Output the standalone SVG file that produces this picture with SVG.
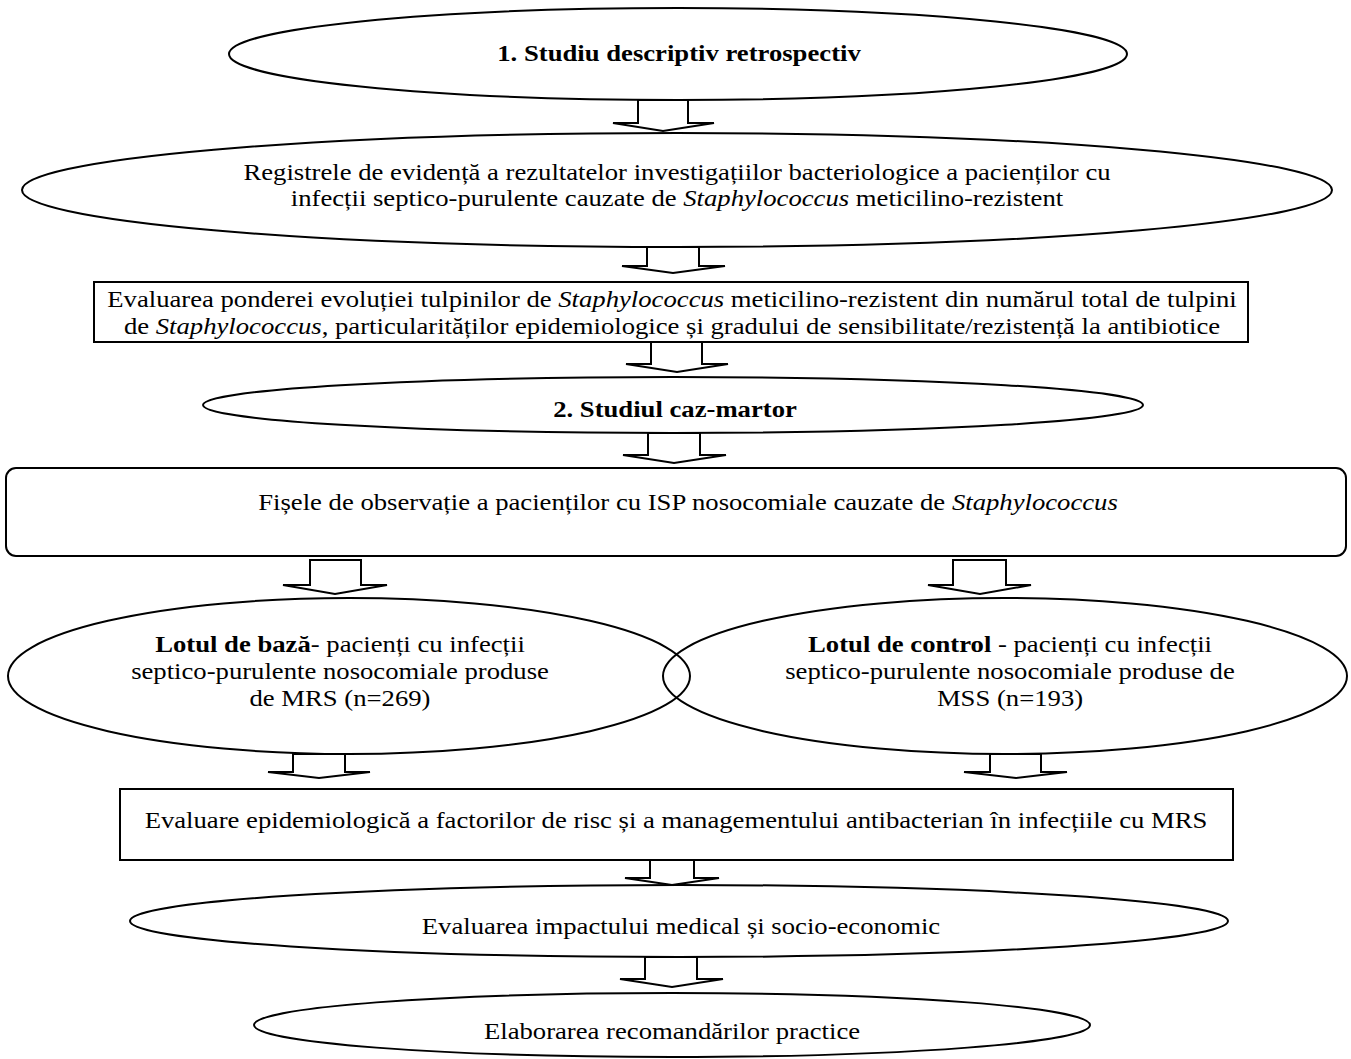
<svg xmlns="http://www.w3.org/2000/svg" width="1351" height="1059" viewBox="0 0 1351 1059">
<style>
.shape{fill:#fff;stroke:#000;stroke-width:2}
.open{fill:none;stroke:#000;stroke-width:2}
.arr{fill:#fff;stroke:#000;stroke-width:2;stroke-linejoin:miter}
text{font-family:"Liberation Serif","Times New Roman",serif;font-size:23.5px;fill:#000;text-anchor:middle}
.b{font-weight:bold}
.i{font-style:italic}
</style>
<rect width="1351" height="1059" fill="#fff"/>
<g id="connectors">
<path class="arr" d="M638,100 V123 H613 L663,131 L714,123 H688 V100 Z"/>
<path class="arr" d="M647,247 V266 H622 L673,273 L725,266 H699 V247 Z"/>
<path class="arr" d="M651,342 V364 H626 L677,372 L728,364 H702 V342 Z"/>
<path class="arr" d="M648,433 V455 H623 L674,463 L726,455 H700 V433 Z"/>
<path class="arr" d="M310,560 V585 H283 L335,594 L387,585 H361 V560 Z"/>
<path class="arr" d="M953,560 V585 H928 L980,594 L1031,585 H1006 V560 Z"/>
<path class="arr" d="M293,754 V772 H268 L319,778 L370,772 H345 V754 Z"/>
<path class="arr" d="M990,754 V772 H964 L1016,778 L1067,772 H1041 V754 Z"/>
<path class="arr" d="M650,860 V878 H625 L672,885 L719,878 H694 V860 Z"/>
<path class="arr" d="M645,957 V979 H620 L672,987 L723,979 H697 V957 Z"/>
</g>
<g id="n1">
<ellipse class="shape" cx="678" cy="54" rx="449" ry="46"/>
<text transform="translate(679 0) scale(1.136 1)" x="0" y="61" class="b">1. Studiu descriptiv retrospectiv</text>
</g>
<g id="n2">
<ellipse class="shape" cx="677" cy="190" rx="655" ry="57"/>
<text transform="translate(677 0) scale(1.136 1)" x="0" y="180">Registrele de evidență a rezultatelor investigațiilor bacteriologice a pacienților cu</text>
<text transform="translate(677 0) scale(1.136 1)" x="0" y="206">infecții septico-purulente cauzate de <tspan class="i">Staphylococcus</tspan> meticilino-rezistent</text>
</g>
<g id="n3">
<rect class="shape" x="94" y="282" width="1154" height="60"/>
<text transform="translate(672 0) scale(1.136 1)" x="0" y="307">Evaluarea ponderei evoluției tulpinilor de <tspan class="i">Staphylococcus</tspan> meticilino-rezistent din numărul total de tulpini</text>
<text transform="translate(672 0) scale(1.136 1)" x="0" y="334">de <tspan class="i">Staphylococcus</tspan>, particularităților epidemiologice și gradului de sensibilitate/rezistență la antibiotice</text>
</g>
<g id="n4">
<ellipse class="shape" cx="673" cy="405" rx="470" ry="28"/>
<text transform="translate(675 0) scale(1.136 1)" x="0" y="417" class="b">2. Studiul caz-martor</text>
</g>
<g id="n5">
<rect class="shape" x="6" y="468" width="1340" height="88" rx="10"/>
<text transform="translate(688 0) scale(1.136 1)" x="0" y="510">Fișele de observație a pacienților cu ISP nosocomiale cauzate de <tspan class="i">Staphylococcus</tspan></text>
</g>
<g id="n6">
<ellipse class="open" cx="349" cy="676" rx="341" ry="78"/>
<text transform="translate(340 0) scale(1.136 1)" x="0" y="652"><tspan class="b">Lotul de bază</tspan>- pacienți cu infecții</text>
<text transform="translate(340 0) scale(1.136 1)" x="0" y="679">septico-purulente nosocomiale produse</text>
<text transform="translate(340 0) scale(1.136 1)" x="0" y="706">de MRS (n=269)</text>
</g>
<g id="n7">
<ellipse class="open" cx="1005" cy="676" rx="342" ry="78"/>
<text transform="translate(1010 0) scale(1.136 1)" x="0" y="652"><tspan class="b">Lotul de control</tspan> - pacienți cu infecții</text>
<text transform="translate(1010 0) scale(1.136 1)" x="0" y="679">septico-purulente nosocomiale produse de</text>
<text transform="translate(1010 0) scale(1.136 1)" x="0" y="706">MSS (n=193)</text>
</g>
<g id="n8">
<rect class="shape" x="120" y="789" width="1113" height="71"/>
<text transform="translate(676 0) scale(1.136 1)" x="0" y="828">Evaluare epidemiologică a factorilor de risc și a managementului antibacterian în infecțiile cu MRS</text>
</g>
<g id="n9">
<ellipse class="shape" cx="679" cy="921" rx="549" ry="36"/>
<text transform="translate(681 0) scale(1.136 1)" x="0" y="934">Evaluarea impactului medical și socio-economic</text>
</g>
<g id="n10">
<ellipse class="shape" cx="672" cy="1025" rx="418" ry="32"/>
<text transform="translate(672 0) scale(1.136 1)" x="0" y="1039">Elaborarea recomandărilor practice</text>
</g>
</svg>
